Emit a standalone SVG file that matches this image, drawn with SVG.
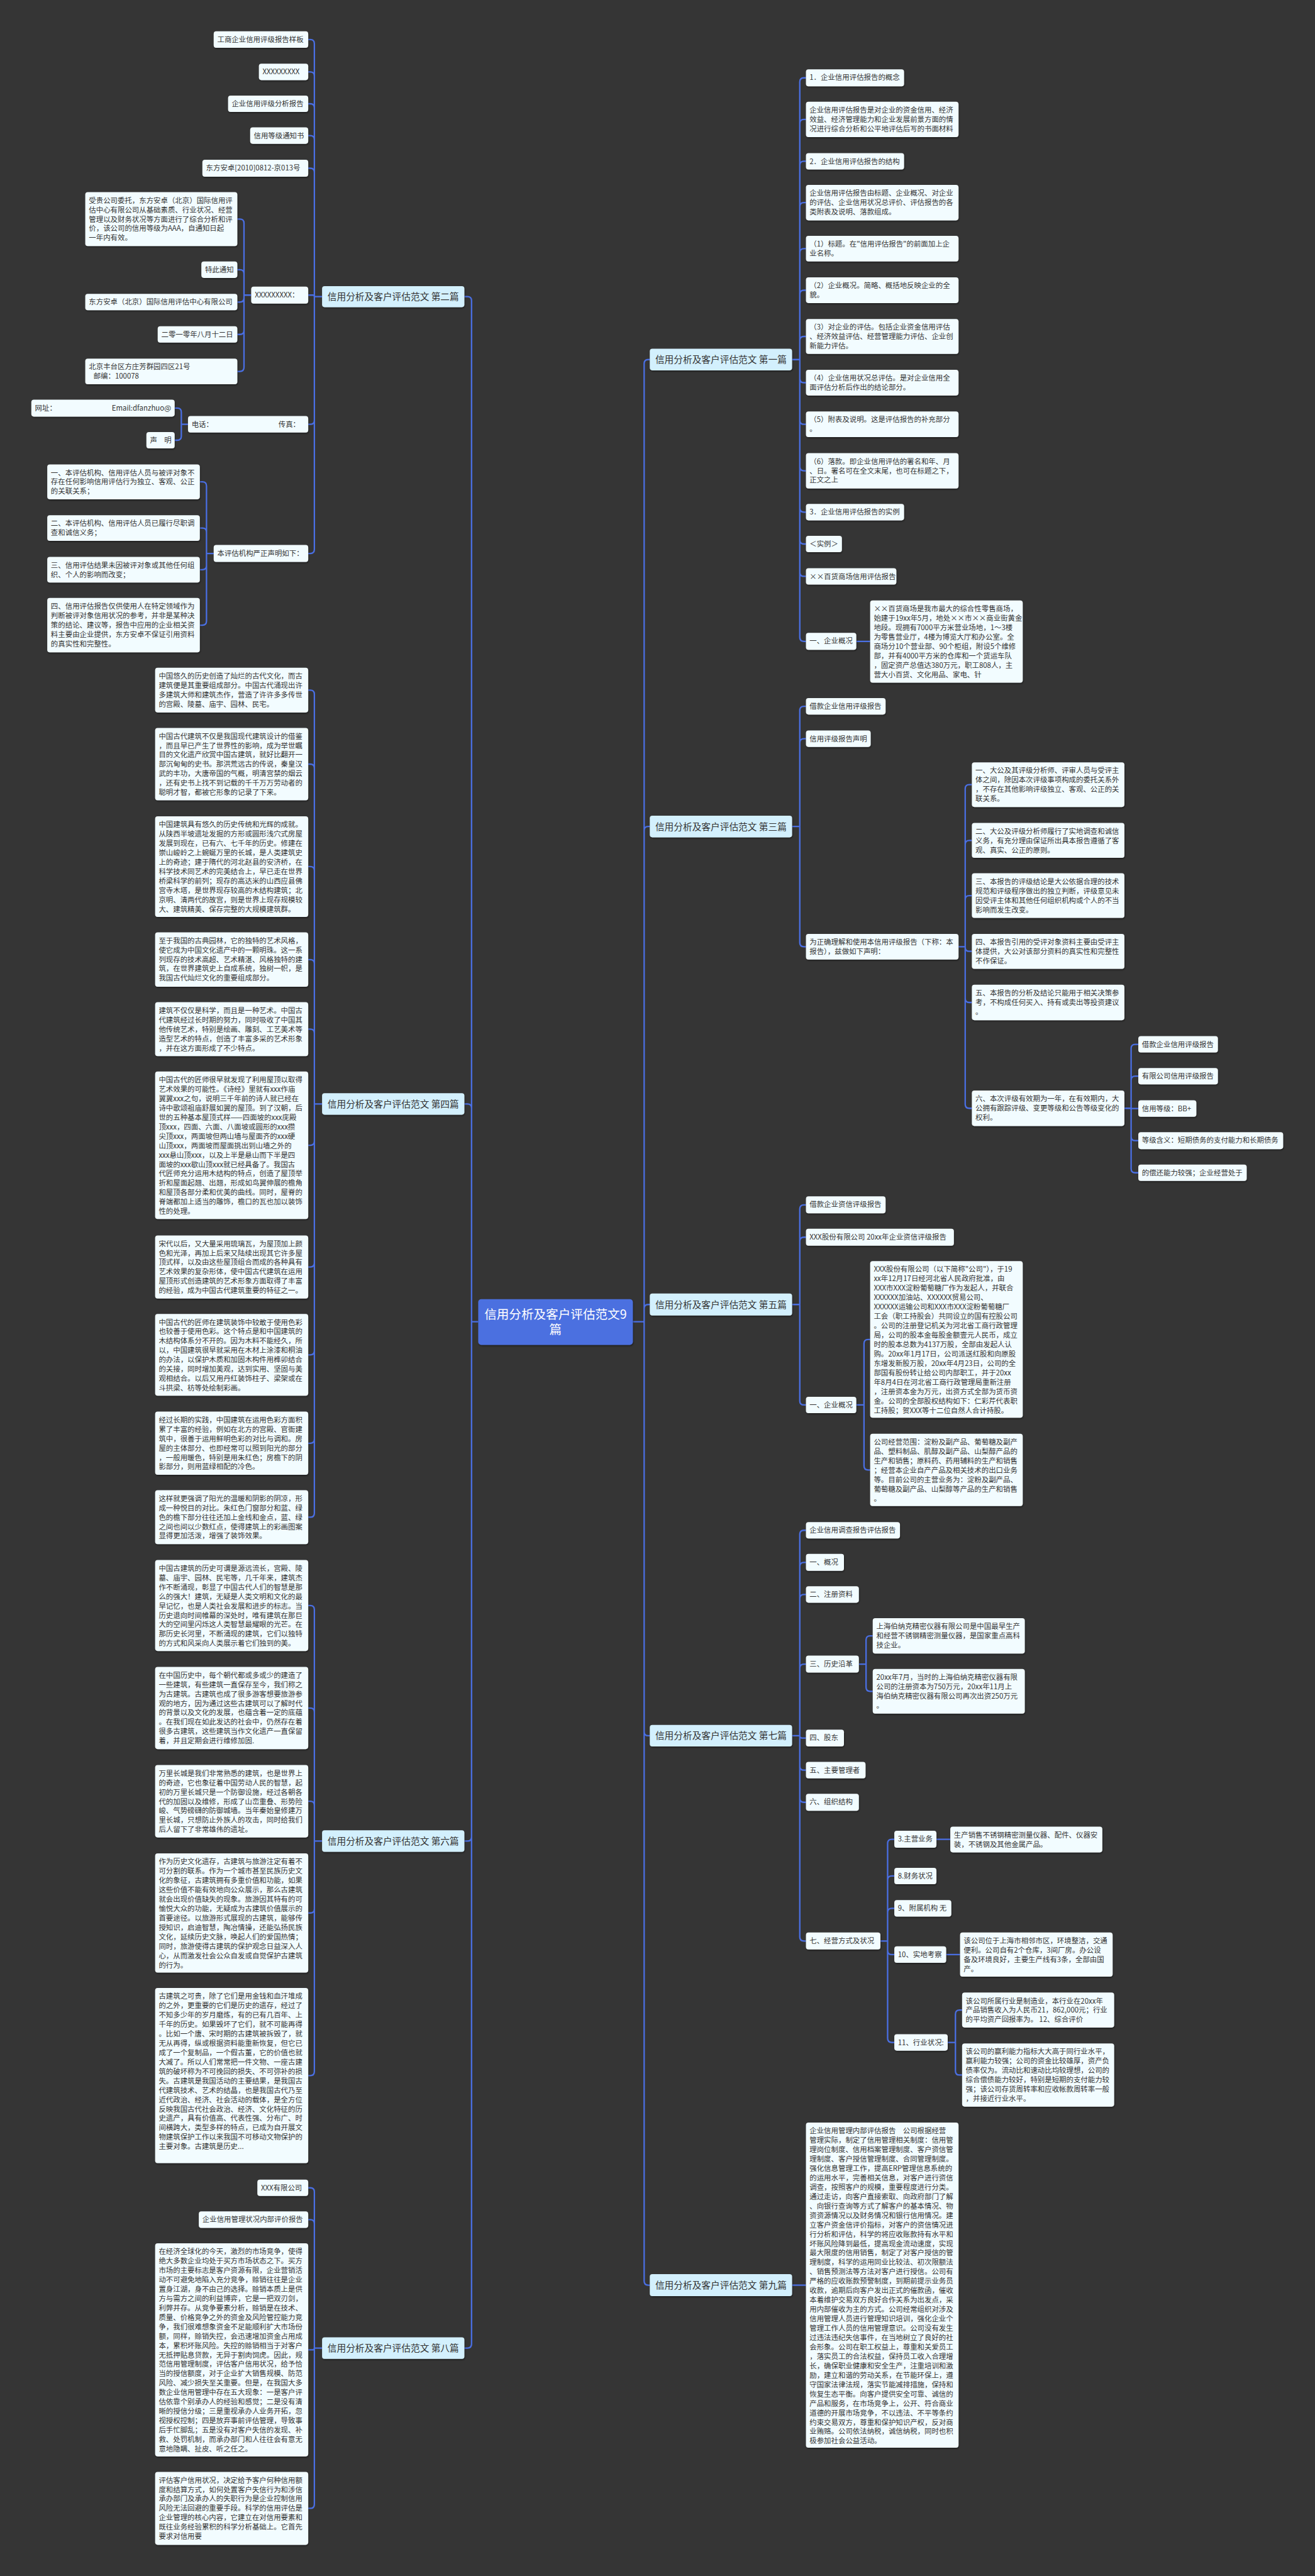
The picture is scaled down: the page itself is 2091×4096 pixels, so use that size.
<svg xmlns="http://www.w3.org/2000/svg" width="2091" height="4096" viewBox="0 0 2091 4096">
<defs>
<filter id="sh" x="-5%" y="-5%" width="110%" height="120%"><feDropShadow dx="1" dy="2" stdDeviation="1" flood-color="#000" flood-opacity="0.45"/></filter>
<style>
.lf rect{fill:#f2fcff;filter:url(#sh)}
.br rect{fill:#d3f0fd;filter:url(#sh)}
.ct rect{fill:#4b6fe0;filter:url(#sh)}
text{font-family:"Noto Sans CJK SC","Microsoft YaHei",sans-serif;fill:#333}
.t{font-size:14px}
.b{font-size:18px;text-anchor:middle}
.c{font-size:24px;text-anchor:middle;fill:#fff}
.e{text-anchor:end}
#cn path{fill:none;stroke:#4a6fe3;stroke-width:2.8}
</style>
</defs>
<rect width="2091" height="4096" fill="#353535"/>
<g transform="scale(0.8168)">
<g id="cn">
<path d="M931 2573H918M904 577.5H910Q918 577.5 918 585.5V2573M904 2149H910Q918 2149 918 2157V2573M904 3584H910Q918 3584 918 3576V2573M904 4571H910Q918 4571 918 4563V2573"/>
<path d="M1232 2573H1254M1265 700H1262Q1254 700 1254 708V2573M1265 1609H1262Q1254 1609 1254 1617V2573M1265 2539.5H1262Q1254 2539.5 1254 2547.5V2573M1265 3379H1262Q1254 3379 1254 3371V2573M1265 4448.5H1262Q1254 4448.5 1254 4440.5V2573"/>
<path d="M627 577.5H612M600 77H604Q612 77 612 85V577.5M600 140H604Q612 140 612 148V577.5M600 202H604Q612 202 612 210V577.5M600 264H604Q612 264 612 272V577.5M600 327.5H604Q612 327.5 612 335.5V577.5M600 574.5H609Q612 574.5 612 577.5M600 826H604Q612 826 612 818V577.5M600 1077.5H604Q612 1077.5 612 1069.5V577.5"/>
<path d="M489 574.5H475M462 426.5H467Q475 426.5 475 434.5V574.5M462 525H467Q475 525 475 533V574.5M462 588H467Q475 588 475 580V574.5M462 651H467Q475 651 475 643V574.5M462 723H467Q475 723 475 715V574.5"/>
<path d="M366 826H353M340 794.5H345Q353 794.5 353 802.5V826M340 857H345Q353 857 353 849V826"/>
<path d="M416 1077.5H402M389 938H394Q402 938 402 946V1077.5M389 1028H394Q402 1028 402 1036V1077.5M389 1109H394Q402 1109 402 1101V1077.5M389 1217H394Q402 1217 402 1209V1077.5"/>
<path d="M627 2149H612M600 1343.5H604Q612 1343.5 612 1351.5V2149M600 1487.5H604Q612 1487.5 612 1495.5V2149M600 1687H604Q612 1687 612 1695V2149M600 1868H604Q612 1868 612 1876V2149M600 2003.5H604Q612 2003.5 612 2011.5V2149M600 2229.5H604Q612 2229.5 612 2221.5V2149M600 2466.5H604Q612 2466.5 612 2458.5V2149M600 2637.5H604Q612 2637.5 612 2629.5V2149M600 2809.5H604Q612 2809.5 612 2801.5V2149M600 2953.5H604Q612 2953.5 612 2945.5V2149"/>
<path d="M627 3584H612M600 3125.5H604Q612 3125.5 612 3133.5V3584M600 3325H604Q612 3325 612 3333V3584M600 3506.5H604Q612 3506.5 612 3514.5V3584M600 3724H604Q612 3724 612 3716V3584M600 4040.5H604Q612 4040.5 612 4032.5V3584"/>
<path d="M627 4571H612M600 4259H604Q612 4259 612 4267V4571M600 4321H604Q612 4321 612 4329V4571M600 4574.5H608.5Q612 4574.5 612 4571M600 4883H604Q612 4883 612 4875V4571"/>
<path d="M1542 700H1557M1569 151.5H1565Q1557 151.5 1557 159.5V700M1569 232.5H1565Q1557 232.5 1557 240.5V700M1569 314H1565Q1557 314 1557 322V700M1569 394.5H1565Q1557 394.5 1557 402.5V700M1569 484H1565Q1557 484 1557 492V700M1569 565H1565Q1557 565 1557 573V700M1569 655H1565Q1557 655 1557 663V700M1569 745H1565Q1557 745 1557 737V700M1569 826H1565Q1557 826 1557 818V700M1569 916.5H1565Q1557 916.5 1557 908.5V700M1569 997H1565Q1557 997 1557 989V700M1569 1059H1565Q1557 1059 1557 1051V700M1569 1122H1565Q1557 1122 1557 1114V700M1569 1248.5H1565Q1557 1248.5 1557 1240.5V700M1667 1248.5H1694"/>
<path d="M1542 1609H1557M1569 1375H1565Q1557 1375 1557 1383V1609M1569 1438H1565Q1557 1438 1557 1446V1609M1569 1843H1565Q1557 1843 1557 1835V1609"/>
<path d="M1866 1843H1879M1892 1527.5H1887Q1879 1527.5 1879 1535.5V1843M1892 1636H1887Q1879 1636 1879 1644V1843M1892 1743.5H1887Q1879 1743.5 1879 1751.5V1843M1892 1852H1887Q1879 1852 1879 1844V1843M1892 1951.5H1887Q1879 1951.5 1879 1943.5V1843M1892 2157.5H1887Q1879 2157.5 1879 2149.5V1843"/>
<path d="M2189 2157.5H2202M2216 2033H2210Q2202 2033 2202 2041V2157.5M2216 2095H2210Q2202 2095 2202 2103V2157.5M2216 2158H2202M2216 2220.5H2210Q2202 2220.5 2202 2212.5V2157.5M2216 2283H2210Q2202 2283 2202 2275V2157.5"/>
<path d="M1542 2539.5H1557M1569 2345.5H1565Q1557 2345.5 1557 2353.5V2539.5M1569 2408.5H1565Q1557 2408.5 1557 2416.5V2539.5M1569 2735H1565Q1557 2735 1557 2727V2539.5"/>
<path d="M1667 2735H1682M1694 2607.5H1690Q1682 2607.5 1682 2615.5V2735M1694 2861.5H1690Q1682 2861.5 1682 2853.5V2735"/>
<path d="M1542 3379H1557M1569 2979H1565Q1557 2979 1557 2987V3379M1569 3041.5H1565Q1557 3041.5 1557 3049.5V3379M1569 3104H1565Q1557 3104 1557 3112V3379M1569 3239.5H1565Q1557 3239.5 1557 3247.5V3379M1569 3383.5H1561.5Q1557 3383.5 1557 3379M1569 3446H1565Q1557 3446 1557 3438V3379M1569 3508.5H1565Q1557 3508.5 1557 3500.5V3379M1569 3778.5H1565Q1557 3778.5 1557 3770.5V3379"/>
<path d="M1672 3239.5H1686M1699 3184.5H1694Q1686 3184.5 1686 3192.5V3239.5M1699 3292.5H1694Q1686 3292.5 1686 3284.5V3239.5"/>
<path d="M1714 3778.5H1728M1741 3580.5H1736Q1728 3580.5 1728 3588.5V3778.5M1741 3652H1736Q1728 3652 1728 3660V3778.5M1741 3715H1736Q1728 3715 1728 3723V3778.5M1741 3805H1736Q1728 3805 1728 3797V3778.5M1741 3976H1736Q1728 3976 1728 3968V3778.5M1823 3580.5H1850M1842 3805H1869"/>
<path d="M1845 3976H1860M1873 3913H1868Q1860 3913 1860 3921V3976M1873 4039.5H1868Q1860 4039.5 1860 4031.5V3976"/>
<path d="M1542 4448.5H1569"/>
</g>

<g id="center" class="ct"><rect x="931" y="2529" width="301" height="89" rx="6"/><text class="c" x="1081.5" y="2567">信用分析及客户评估范文9</text><text class="c" x="1081.5" y="2597">篇</text></g>

<g id="b2" class="br"><rect x="627" y="557" width="277" height="41" rx="5"/><text class="b" x="765.5" y="584">信用分析及客户评估范文 第二篇</text></g>
<g id="b4" class="br"><rect x="627" y="2128" width="277" height="42" rx="5"/><text class="b" x="765.5" y="2155.5">信用分析及客户评估范文 第四篇</text></g>
<g id="b6" class="br"><rect x="627" y="3563" width="277" height="42" rx="5"/><text class="b" x="765.5" y="3590.5">信用分析及客户评估范文 第六篇</text></g>
<g id="b8" class="br"><rect x="627" y="4550" width="277" height="42" rx="5"/><text class="b" x="765.5" y="4577.5">信用分析及客户评估范文 第八篇</text></g>
<g id="b1" class="br"><rect x="1265" y="679" width="277" height="42" rx="5"/><text class="b" x="1403.5" y="706.5">信用分析及客户评估范文 第一篇</text></g>
<g id="b3" class="br"><rect x="1265" y="1588" width="277" height="42" rx="5"/><text class="b" x="1403.5" y="1615.5">信用分析及客户评估范文 第三篇</text></g>
<g id="b5" class="br"><rect x="1265" y="2518" width="277" height="43" rx="5"/><text class="b" x="1403.5" y="2546">信用分析及客户评估范文 第五篇</text></g>
<g id="b7" class="br"><rect x="1265" y="3358" width="277" height="42" rx="5"/><text class="b" x="1403.5" y="3385.5">信用分析及客户评估范文 第七篇</text></g>
<g id="b9" class="br"><rect x="1265" y="4427" width="277" height="43" rx="5"/><text class="b" x="1403.5" y="4455">信用分析及客户评估范文 第九篇</text></g>

<g id="a1" class="lf"><rect x="416" y="61" width="184" height="32" rx="5"/><text class="t" x="423" y="82">工商企业信用评级报告样板</text></g>
<g id="a2" class="lf"><rect x="504" y="124" width="96" height="32" rx="5"/><text class="t" x="511" y="145">XXXXXXXXX</text></g>
<g id="a3" class="lf"><rect x="444" y="186" width="156" height="32" rx="5"/><text class="t" x="451" y="207">企业信用评级分析报告</text></g>
<g id="a4" class="lf"><rect x="487" y="248" width="113" height="32" rx="5"/><text class="t" x="494" y="269">信用等级通知书</text></g>
<g id="a5" class="lf"><rect x="394" y="311" width="206" height="33" rx="5"/><text class="t" x="401" y="332">东方安卓[2010]0812-京013号</text></g>
<g id="a6" class="lf"><rect x="489" y="558" width="111" height="33" rx="5"/><text class="t" x="496" y="579">XXXXXXXXX：</text></g>
<g id="a6a" class="lf"><rect x="166" y="374" width="296" height="105" rx="5"/><text class="t" x="173" y="395"><tspan x="173">受贵公司委托，东方安卓（北京）国际信用评</tspan><tspan x="173" dy="18.3">估中心有限公司从基础素质、行业状况、经营</tspan><tspan x="173" dy="18.3">管理以及财务状况等方面进行了综合分析和评</tspan><tspan x="173" dy="18.3">价，该公司的信用等级为AAA，自通知日起</tspan><tspan x="173" dy="18.3">一年内有效。</tspan></text></g>
<g id="a6b" class="lf"><rect x="392" y="509" width="70" height="32" rx="5"/><text class="t" x="399" y="530">特此通知</text></g>
<g id="a6c" class="lf"><rect x="166" y="572" width="296" height="32" rx="5"/><text class="t" x="173" y="593">东方安卓（北京）国际信用评估中心有限公司</text></g>
<g id="a6d" class="lf"><rect x="307" y="635" width="155" height="32" rx="5"/><text class="t" x="314" y="656">二零一零年八月十二日</text></g>
<g id="a6e" class="lf"><rect x="166" y="698" width="296" height="50" rx="5"/><text class="t" x="173" y="719"><tspan x="173">北京丰台区方庄芳群园四区21号</tspan><tspan x="182" dy="18.3">邮编：100078</tspan></text></g>
<g id="a7" class="lf"><rect x="366" y="810" width="234" height="32" rx="5"/><text class="t" x="373" y="831">电话：</text><text class="t e" x="584" y="831">传真：</text></g>
<g id="a7a" class="lf"><rect x="61" y="778" width="279" height="33" rx="5"/><text class="t" x="68" y="799">网址：</text><text class="t e" x="333" y="799">Email:dfanzhuo@</text></g>
<g id="a7b" class="lf"><rect x="285" y="841" width="55" height="32" rx="5"/><text class="t" x="292" y="862">声　明</text></g>
<g id="a8" class="lf"><rect x="416" y="1061" width="184" height="33" rx="5"/><text class="t" x="423" y="1082">本评估机构严正声明如下：</text></g>
<g id="a8a" class="lf"><rect x="92" y="904" width="297" height="68" rx="5"/><text class="t" x="99" y="925"><tspan x="99">一、本评估机构、信用评估人员与被评对象不</tspan><tspan x="99" dy="18.3">存在任何影响信用评估行为独立、客观、公正</tspan><tspan x="99" dy="18.3">的关联关系；</tspan></text></g>
<g id="a8b" class="lf"><rect x="92" y="1003" width="297" height="50" rx="5"/><text class="t" x="99" y="1024"><tspan x="99">二、本评估机构、信用评估人员已履行尽职调</tspan><tspan x="99" dy="18.3">查和诚信义务；</tspan></text></g>
<g id="a8c" class="lf"><rect x="92" y="1084" width="297" height="50" rx="5"/><text class="t" x="99" y="1105"><tspan x="99">三、信用评估结果未因被评对象或其他任何组</tspan><tspan x="99" dy="18.3">织、个人的影响而改变；</tspan></text></g>
<g id="a8d" class="lf"><rect x="92" y="1164" width="297" height="106" rx="5"/><text class="t" x="99" y="1185"><tspan x="99">四、信用评估报告仅供使用人在特定领域作为</tspan><tspan x="99" dy="18.3">判断被评对象信用状况的参考，并非是某种决</tspan><tspan x="99" dy="18.3">策的结论、建议等，报告中应用的企业相关资</tspan><tspan x="99" dy="18.3">料主要由企业提供，东方安卓不保证引用资料</tspan><tspan x="99" dy="18.3">的真实性和完整性。</tspan></text></g>

<g id="b4-1" class="lf"><rect x="302" y="1300" width="298" height="87" rx="5"/><text class="t" x="309" y="1321"><tspan x="309">中国悠久的历史创造了灿烂的古代文化，而古</tspan><tspan x="309" dy="18.3">建筑便是其重要组成部分。中国古代涌现出许</tspan><tspan x="309" dy="18.3">多建筑大师和建筑杰作，营造了许许多多传世</tspan><tspan x="309" dy="18.3">的宫殿、陵墓、庙宇、园林、民宅。</tspan></text></g>
<g id="b4-2" class="lf"><rect x="302" y="1417" width="298" height="141" rx="5"/><text class="t" x="309" y="1438"><tspan x="309">中国古代建筑不仅是我国现代建筑设计的借鉴</tspan><tspan x="309" dy="18.3">，而且早已产生了世界性的影响，成为举世瞩</tspan><tspan x="309" dy="18.3">目的文化遗产欣赏中国古建筑，就好比翻开一</tspan><tspan x="309" dy="18.3">部沉甸甸的史书。那洪荒远古的传说，秦皇汉</tspan><tspan x="309" dy="18.3">武的丰功，大唐帝国的气概，明清宫禁的烟云</tspan><tspan x="309" dy="18.3">，还有史书上找不到记载的千千万万劳动者的</tspan><tspan x="309" dy="18.3">聪明才智，都被它形象的记录了下来。</tspan></text></g>
<g id="b4-3" class="lf"><rect x="302" y="1589" width="298" height="196" rx="5"/><text class="t" x="309" y="1610"><tspan x="309">中国建筑具有悠久的历史传统和光辉的成就。</tspan><tspan x="309" dy="18.3">从陕西半坡遗址发掘的方形或圆形浅穴式房屋</tspan><tspan x="309" dy="18.3">发展到现在，已有六、七千年的历史。修建在</tspan><tspan x="309" dy="18.3">崇山峻岭之上蜿蜒万里的长城，是人类建筑史</tspan><tspan x="309" dy="18.3">上的奇迹；建于隋代的河北赵县的安济桥，在</tspan><tspan x="309" dy="18.3">科学技术同艺术的完美结合上，早已走在世界</tspan><tspan x="309" dy="18.3">桥梁科学的前列；现存的高达米的山西应县佛</tspan><tspan x="309" dy="18.3">宫寺木塔，是世界现存较高的木结构建筑；北</tspan><tspan x="309" dy="18.3">京明、清两代的故宫，则是世界上现存规模较</tspan><tspan x="309" dy="18.3">大、建筑精美、保存完整的大规模建筑群。</tspan></text></g>
<g id="b4-4" class="lf"><rect x="302" y="1815" width="298" height="106" rx="5"/><text class="t" x="309" y="1836"><tspan x="309">至于我国的古典园林，它的独特的艺术风格，</tspan><tspan x="309" dy="18.3">使它成为中国文化遗产中的一颗明珠。这一系</tspan><tspan x="309" dy="18.3">列现存的技术高超、艺术精湛、风格独特的建</tspan><tspan x="309" dy="18.3">筑，在世界建筑史上自成系统，独树一帜，是</tspan><tspan x="309" dy="18.3">我国古代灿烂文化的重要组成部分。</tspan></text></g>
<g id="b4-5" class="lf"><rect x="302" y="1951" width="298" height="105" rx="5"/><text class="t" x="309" y="1972"><tspan x="309">建筑不仅仅是科学，而且是一种艺术。中国古</tspan><tspan x="309" dy="18.3">代建筑经过长时期的努力，同时吸收了中国其</tspan><tspan x="309" dy="18.3">他传统艺术，特别是绘画、雕刻、工艺美术等</tspan><tspan x="309" dy="18.3">造型艺术的特点，创造了丰富多采的艺术形象</tspan><tspan x="309" dy="18.3">，并在这方面形成了不少特点。</tspan></text></g>
<g id="b4-6" class="lf"><rect x="302" y="2086" width="298" height="287" rx="5"/><text class="t" x="309" y="2107"><tspan x="309">中国古代的匠师很早就发现了利用屋顶以取得</tspan><tspan x="309" dy="18.3">艺术效果的可能性。《诗经》里就有xxx作庙</tspan><tspan x="309" dy="18.3">翼翼xxx之句，说明三千年前的诗人就已经在</tspan><tspan x="309" dy="18.3">诗中歌颂祖庙舒展如翼的屋顶。到了汉朝，后</tspan><tspan x="309" dy="18.3">世的五种基本屋顶式样——四面坡的xxx庑殿</tspan><tspan x="309" dy="18.3">顶xxx，四面、六面、八面坡或圆形的xxx攒</tspan><tspan x="309" dy="18.3">尖顶xxx，两面坡但两山墙与屋面齐的xxx硬</tspan><tspan x="309" dy="18.3">山顶xxx，两面坡而屋面挑出到山墙之外的</tspan><tspan x="309" dy="18.3">xxx悬山顶xxx，以及上半是悬山而下半是四</tspan><tspan x="309" dy="18.3">面坡的xxx歇山顶xxx就已经具备了。我国古</tspan><tspan x="309" dy="18.3">代匠师充分运用木结构的特点，创造了屋顶举</tspan><tspan x="309" dy="18.3">折和屋面起翘、出翘，形成如鸟翼伸展的檐角</tspan><tspan x="309" dy="18.3">和屋顶各部分柔和优美的曲线。同时，屋脊的</tspan><tspan x="309" dy="18.3">脊端都加上适当的雕饰，檐口的瓦也加以装饰</tspan><tspan x="309" dy="18.3">性的处理。</tspan></text></g>
<g id="b4-7" class="lf"><rect x="302" y="2405" width="298" height="123" rx="5"/><text class="t" x="309" y="2426"><tspan x="309">宋代以后，又大量采用琉璃瓦，为屋顶加上颜</tspan><tspan x="309" dy="18.3">色和光泽，再加上后来又陆续出现其它许多屋</tspan><tspan x="309" dy="18.3">顶式样，以及由这些屋顶组合而成的各种具有</tspan><tspan x="309" dy="18.3">艺术效果的复杂形体，使中国古代建筑在运用</tspan><tspan x="309" dy="18.3">屋顶形式创造建筑的艺术形象方面取得了丰富</tspan><tspan x="309" dy="18.3">的经验，成为中国古代建筑重要的特征之一。</tspan></text></g>
<g id="b4-8" class="lf"><rect x="302" y="2558" width="298" height="159" rx="5"/><text class="t" x="309" y="2579"><tspan x="309">中国古代的匠师在建筑装饰中较敢于使用色彩</tspan><tspan x="309" dy="18.3">也较善于使用色彩。这个特点是和中国建筑的</tspan><tspan x="309" dy="18.3">木结构体系分不开的。因为木料不能经久，所</tspan><tspan x="309" dy="18.3">以，中国建筑很早就采用在木材上涂漆和桐油</tspan><tspan x="309" dy="18.3">的办法，以保护木质和加固木构件用榫卯结合</tspan><tspan x="309" dy="18.3">的关接，同时增加美观，达到实用、坚固与美</tspan><tspan x="309" dy="18.3">观相结合。以后又用丹红装饰柱子、梁架或在</tspan><tspan x="309" dy="18.3">斗拱梁、枋等处绘制彩画。</tspan></text></g>
<g id="b4-9" class="lf"><rect x="302" y="2748" width="298" height="123" rx="5"/><text class="t" x="309" y="2769"><tspan x="309">经过长期的实践，中国建筑在运用色彩方面积</tspan><tspan x="309" dy="18.3">累了丰富的经验，例如在北方的宫殿、官衙建</tspan><tspan x="309" dy="18.3">筑中，很善于运用鲜明色彩的对比与调和。房</tspan><tspan x="309" dy="18.3">屋的主体部分、也即经常可以照到阳光的部分</tspan><tspan x="309" dy="18.3">，一般用暖色，特别是用朱红色；房檐下的阴</tspan><tspan x="309" dy="18.3">影部分，则用蓝绿相配的冷色。</tspan></text></g>
<g id="b4-10" class="lf"><rect x="302" y="2901" width="298" height="105" rx="5"/><text class="t" x="309" y="2922"><tspan x="309">这样就更强调了阳光的温暖和阴影的阴凉，形</tspan><tspan x="309" dy="18.3">成一种悦目的对比。朱红色门窗部分和蓝、绿</tspan><tspan x="309" dy="18.3">色的檐下部分往往还加上金线和金点，蓝、绿</tspan><tspan x="309" dy="18.3">之间也间以少数红点，使得建筑上的彩画图案</tspan><tspan x="309" dy="18.3">显得更加活泼，增强了装饰效果。</tspan></text></g>

<g id="b6-1" class="lf"><rect x="302" y="3037" width="298" height="177" rx="5"/><text class="t" x="309" y="3058"><tspan x="309">中国古建筑的历史可谓是源远流长，宫殿、陵</tspan><tspan x="309" dy="18.3">墓、庙宇、园林、民宅等，几千年来，建筑杰</tspan><tspan x="309" dy="18.3">作不断涌现，彰显了中国古代人们的智慧是那</tspan><tspan x="309" dy="18.3">么的强大！建筑，无疑是人类文明和文化的最</tspan><tspan x="309" dy="18.3">早记忆，也是人类社会发展和进步的标志。当</tspan><tspan x="309" dy="18.3">历史退向时间帷幕的深处时，唯有建筑在那巨</tspan><tspan x="309" dy="18.3">大的空间里闪烁这人类智慧最耀眼的光芒。在</tspan><tspan x="309" dy="18.3">那历史长河里，不断涌现的建筑，它们以独特</tspan><tspan x="309" dy="18.3">的方式和风采向人类展示着它们独到的美。</tspan></text></g>
<g id="b6-2" class="lf"><rect x="302" y="3245" width="298" height="160" rx="5"/><text class="t" x="309" y="3266"><tspan x="309">在中国历史中，每个朝代都或多或少的建造了</tspan><tspan x="309" dy="18.3">一些建筑，有些建筑一直保存至今，我们称之</tspan><tspan x="309" dy="18.3">为古建筑。古建筑也成了很多游客想要旅游参</tspan><tspan x="309" dy="18.3">观的地方，因为通过这些古建筑可以了解时代</tspan><tspan x="309" dy="18.3">的背景以及文化的发展，也蕴含着一定的底蕴</tspan><tspan x="309" dy="18.3">。在我们现在如此发达的社会中，仍然存在着</tspan><tspan x="309" dy="18.3">很多古建筑，这些建筑当作文化遗产一直保留</tspan><tspan x="309" dy="18.3">着，并且定期会进行维修加固.</tspan></text></g>
<g id="b6-3" class="lf"><rect x="302" y="3436" width="298" height="141" rx="5"/><text class="t" x="309" y="3457"><tspan x="309">万里长城是我们非常熟悉的建筑，也是世界上</tspan><tspan x="309" dy="18.3">的奇迹，它也象征着中国劳动人民的智慧，起</tspan><tspan x="309" dy="18.3">初的万里长城只是一个防御设施，经过各朝各</tspan><tspan x="309" dy="18.3">代的加固以及维修，形成了山峦重叠、形势险</tspan><tspan x="309" dy="18.3">峻、气势磅礴的防御城墙。当年秦始皇修建万</tspan><tspan x="309" dy="18.3">里长城，只想防止外族人的攻击，同时给我们</tspan><tspan x="309" dy="18.3">后人留下了非常雄伟的遗址。</tspan></text></g>
<g id="b6-4" class="lf"><rect x="302" y="3608" width="298" height="232" rx="5"/><text class="t" x="309" y="3629"><tspan x="309">作为历史文化遗存，古建筑与旅游注定有着不</tspan><tspan x="309" dy="18.3">可分割的联系。作为一个城市甚至民族历史文</tspan><tspan x="309" dy="18.3">化的象征，古建筑拥有多重价值和功能，如果</tspan><tspan x="309" dy="18.3">这些价值不能有效地向公众展示，那么古建筑</tspan><tspan x="309" dy="18.3">就会出现价值缺失的现象。旅游因其特有的可</tspan><tspan x="309" dy="18.3">愉悦大众的功能，无疑成为古建筑价值展示的</tspan><tspan x="309" dy="18.3">首要途径。以旅游形式展现的古建筑，能够传</tspan><tspan x="309" dy="18.3">授知识，启迪智慧，陶冶情操，还能弘扬民族</tspan><tspan x="309" dy="18.3">文化，延续历史文脉，唤起人们的爱国热情；</tspan><tspan x="309" dy="18.3">同时，旅游使得古建筑的保护观念日益深入人</tspan><tspan x="309" dy="18.3">心，从而激发社会公众自发或自觉保护古建筑</tspan><tspan x="309" dy="18.3">的行为。</tspan></text></g>
<g id="b6-5" class="lf"><rect x="302" y="3870" width="298" height="341" rx="5"/><text class="t" x="309" y="3891"><tspan x="309">古建筑之可贵，除了它们是用金钱和血汗堆成</tspan><tspan x="309" dy="18.3">的之外，更重要的它们是历史的遗存，经过了</tspan><tspan x="309" dy="18.3">不知多少年的岁月磨炼，有的已有几百年、上</tspan><tspan x="309" dy="18.3">千年的历史。如果毁坏了它们，就不可能再得</tspan><tspan x="309" dy="18.3">。比如一个唐、宋时期的古建筑被拆毁了，就</tspan><tspan x="309" dy="18.3">无从再得，纵或根据资料能重新恢复，但它已</tspan><tspan x="309" dy="18.3">成了一个复制品，一个假古董，它的价值也就</tspan><tspan x="309" dy="18.3">大减了。所以人们常常把一件文物、一座古建</tspan><tspan x="309" dy="18.3">筑的破坏称为不可挽回的损失、不可弥补的损</tspan><tspan x="309" dy="18.3">失。古建筑是我国活动的主要结果，是我国古</tspan><tspan x="309" dy="18.3">代建筑技术、艺术的结晶，也是我国古代乃至</tspan><tspan x="309" dy="18.3">近代政治、经济、社会活动的载体，是全方位</tspan><tspan x="309" dy="18.3">反映我国古代社会政治、经济、文化特征的历</tspan><tspan x="309" dy="18.3">史遗产，具有价值高、代表性强、分布广、时</tspan><tspan x="309" dy="18.3">间横跨大，类型多样的特点，已成为自开展文</tspan><tspan x="309" dy="18.3">物建筑保护工作以来我国不可移动文物保护的</tspan><tspan x="309" dy="18.3">主要对象。古建筑是历史...</tspan></text></g>

<g id="b8-1" class="lf"><rect x="501" y="4243" width="99" height="32" rx="5"/><text class="t" x="508" y="4264">XXX有限公司</text></g>
<g id="b8-2" class="lf"><rect x="387" y="4305" width="213" height="32" rx="5"/><text class="t" x="394" y="4326">企业信用管理状况内部评价报告</text></g>
<g id="b8-3" class="lf"><rect x="302" y="4367" width="298" height="415" rx="5"/><text class="t" x="309" y="4388"><tspan x="309">在经济全球化的今天，激烈的市场竞争，使得</tspan><tspan x="309" dy="18.3">绝大多数企业均处于买方市场状态之下。买方</tspan><tspan x="309" dy="18.3">市场的主要标志是客户资源有限，企业营销活</tspan><tspan x="309" dy="18.3">动不可避免地陷入充分竞争，赊销往往是企业</tspan><tspan x="309" dy="18.3">置身江湖，身不由己的选择。赊销本质上是供</tspan><tspan x="309" dy="18.3">方与需方之间的利益博弈，它是一把双刃剑，</tspan><tspan x="309" dy="18.3">利弊并存。从竞争要素分析，赊销是在技术、</tspan><tspan x="309" dy="18.3">质量、价格竞争之外的资金及风险管控能力竞</tspan><tspan x="309" dy="18.3">争，我们很难想象资金不足能顺利扩大市场份</tspan><tspan x="309" dy="18.3">额，同样，赊销失控，会迅速增加资金占用成</tspan><tspan x="309" dy="18.3">本，累积坏账风险。失控的赊销相当于对客户</tspan><tspan x="309" dy="18.3">无抵押贴息贷款，无异于割肉饲虎。因此，规</tspan><tspan x="309" dy="18.3">范信用管理制度，评估客户信用状况，给予恰</tspan><tspan x="309" dy="18.3">当的授信额度，对于企业扩大销售规模、防范</tspan><tspan x="309" dy="18.3">风险、减少损失至关重要。但是，在我国大多</tspan><tspan x="309" dy="18.3">数企业信用管理中存在五大现象：一是客户评</tspan><tspan x="309" dy="18.3">估依靠个别承办人的经验和感觉；二是没有清</tspan><tspan x="309" dy="18.3">晰的授信分级；三是重视承办人业务开拓，忽</tspan><tspan x="309" dy="18.3">视授权控制；四是放弃事前评估管理，导致事</tspan><tspan x="309" dy="18.3">后手忙脚乱；五是没有对客户失信的发现、补</tspan><tspan x="309" dy="18.3">救、处罚机制，而承办部门和人往往会有意无</tspan><tspan x="309" dy="18.3">意地隐瞒、扯皮、听之任之。</tspan></text></g>
<g id="b8-4" class="lf"><rect x="302" y="4812" width="298" height="142" rx="5"/><text class="t" x="309" y="4833"><tspan x="309">评估客户信用状况，决定给予客户何种信用额</tspan><tspan x="309" dy="18.3">度和结算方式，如何处置客户失信行为和涉信</tspan><tspan x="309" dy="18.3">承办部门及承办人的失职行为是企业控制信用</tspan><tspan x="309" dy="18.3">风险无法回避的重要手段。科学的信用评估是</tspan><tspan x="309" dy="18.3">企业管理的核心内容，它建立在对信用要素和</tspan><tspan x="309" dy="18.3">既往业务经验累积的科学分析基础上。它首先</tspan><tspan x="309" dy="18.3">要求对信用要</tspan></text></g>

<g id="e1" class="lf"><rect x="1569" y="135" width="191" height="33" rx="5"/><text class="t" x="1576" y="156">1．企业信用评估报告的概念</text></g>
<g id="e2" class="lf"><rect x="1569" y="198" width="297" height="69" rx="5"/><text class="t" x="1576" y="219"><tspan x="1576">企业信用评估报告是对企业的资金信用、经济</tspan><tspan x="1576" dy="18.3">效益、经济管理能力和企业发展前景方面的情</tspan><tspan x="1576" dy="18.3">况进行综合分析和公平地评估后写的书面材料</tspan></text></g>
<g id="e3" class="lf"><rect x="1569" y="298" width="191" height="32" rx="5"/><text class="t" x="1576" y="319">2．企业信用评估报告的结构</text></g>
<g id="e4" class="lf"><rect x="1569" y="360" width="297" height="69" rx="5"/><text class="t" x="1576" y="381"><tspan x="1576">企业信用评估报告由标题、企业概况、对企业</tspan><tspan x="1576" dy="18.3">的评估、企业信用状况总评价、评估报告的各</tspan><tspan x="1576" dy="18.3">类附表及说明、落款组成。</tspan></text></g>
<g id="e5" class="lf"><rect x="1569" y="459" width="297" height="50" rx="5"/><text class="t" x="1576" y="480"><tspan x="1576">（1）标题。在"信用评估报告"的前面加上企</tspan><tspan x="1576" dy="18.3">业名称。</tspan></text></g>
<g id="e6" class="lf"><rect x="1569" y="540" width="297" height="50" rx="5"/><text class="t" x="1576" y="561"><tspan x="1576">（2）企业概况。简略、概括地反映企业的全</tspan><tspan x="1576" dy="18.3">貌。</tspan></text></g>
<g id="e7" class="lf"><rect x="1569" y="621" width="297" height="68" rx="5"/><text class="t" x="1576" y="642"><tspan x="1576">（3）对企业的评估。包括企业资金信用评估</tspan><tspan x="1576" dy="18.3">、经济效益评估、经营管理能力评估、企业创</tspan><tspan x="1576" dy="18.3">新能力评估。</tspan></text></g>
<g id="e8" class="lf"><rect x="1569" y="720" width="297" height="50" rx="5"/><text class="t" x="1576" y="741"><tspan x="1576">（4）企业信用状况总评估。是对企业信用全</tspan><tspan x="1576" dy="18.3">面评估分析后作出的结论部分。</tspan></text></g>
<g id="e9" class="lf"><rect x="1569" y="801" width="297" height="50" rx="5"/><text class="t" x="1576" y="822"><tspan x="1576">（5）附表及说明。这是评估报告的补充部分</tspan><tspan x="1576" dy="18.3">。</tspan></text></g>
<g id="e10" class="lf"><rect x="1569" y="882" width="297" height="69" rx="5"/><text class="t" x="1576" y="903"><tspan x="1576">（6）落款。即企业信用评估的署名和年、月</tspan><tspan x="1576" dy="18.3">、日。署名可在全文末尾，也可在标题之下，</tspan><tspan x="1576" dy="18.3">正文之上</tspan></text></g>
<g id="e11" class="lf"><rect x="1569" y="981" width="191" height="32" rx="5"/><text class="t" x="1576" y="1002">3．企业信用评估报告的实例</text></g>
<g id="e12" class="lf"><rect x="1569" y="1043" width="70" height="32" rx="5"/><text class="t" x="1576" y="1064">＜实例＞</text></g>
<g id="e13" class="lf"><rect x="1569" y="1106" width="176" height="32" rx="5"/><text class="t" x="1576" y="1127">××百货商场信用评估报告</text></g>
<g id="e14" class="lf"><rect x="1569" y="1232" width="98" height="33" rx="5"/><text class="t" x="1576" y="1253">一、企业概况</text></g>
<g id="e14a" class="lf"><rect x="1694" y="1169" width="297" height="160" rx="5"/><text class="t" x="1701" y="1190"><tspan x="1701">××百货商场是我市最大的综合性零售商场，</tspan><tspan x="1701" dy="18.3">始建于19xx年5月，地处××市××商业街黄金</tspan><tspan x="1701" dy="18.3">地段。现拥有7000平方米营业场地，1～3楼</tspan><tspan x="1701" dy="18.3">为零售营业厅，4楼为博览大厅和办公室。全</tspan><tspan x="1701" dy="18.3">商场分10个营业部、90个柜组，附设5个维修</tspan><tspan x="1701" dy="18.3">部，并有4000平方米的仓库和一个货运车队</tspan><tspan x="1701" dy="18.3">，固定资产总值达380万元，职工808人，主</tspan><tspan x="1701" dy="18.3">营大小百货、文化用品、家电、针</tspan></text></g>

<g id="f1" class="lf"><rect x="1569" y="1359" width="155" height="32" rx="5"/><text class="t" x="1576" y="1380">借款企业信用评级报告</text></g>
<g id="f2" class="lf"><rect x="1569" y="1422" width="126" height="32" rx="5"/><text class="t" x="1576" y="1443">信用评级报告声明</text></g>
<g id="f3" class="lf"><rect x="1569" y="1818" width="297" height="50" rx="5"/><text class="t" x="1576" y="1839"><tspan x="1576">为正确理解和使用本信用评级报告（下称：本</tspan><tspan x="1576" dy="18.3">报告），兹做如下声明：</tspan></text></g>
<g id="f3a" class="lf"><rect x="1892" y="1484" width="297" height="87" rx="5"/><text class="t" x="1899" y="1505"><tspan x="1899">一、大公及其评级分析师、评审人员与受评主</tspan><tspan x="1899" dy="18.3">体之间，除因本次评级事项构成的委托关系外</tspan><tspan x="1899" dy="18.3">，不存在其他影响评级独立、客观、公正的关</tspan><tspan x="1899" dy="18.3">联关系。</tspan></text></g>
<g id="f3b" class="lf"><rect x="1892" y="1602" width="297" height="68" rx="5"/><text class="t" x="1899" y="1623"><tspan x="1899">二、大公及评级分析师履行了实地调查和诚信</tspan><tspan x="1899" dy="18.3">义务，有充分理由保证所出具本报告遵循了客</tspan><tspan x="1899" dy="18.3">观、真实、公正的原则。</tspan></text></g>
<g id="f3c" class="lf"><rect x="1892" y="1700" width="297" height="87" rx="5"/><text class="t" x="1899" y="1721"><tspan x="1899">三、本报告的评级结论是大公依据合理的技术</tspan><tspan x="1899" dy="18.3">规范和评级程序做出的独立判断，评级意见未</tspan><tspan x="1899" dy="18.3">因受评主体和其他任何组织机构或个人的不当</tspan><tspan x="1899" dy="18.3">影响而发生改变。</tspan></text></g>
<g id="f3d" class="lf"><rect x="1892" y="1818" width="297" height="68" rx="5"/><text class="t" x="1899" y="1839"><tspan x="1899">四、本报告引用的受评对象资料主要由受评主</tspan><tspan x="1899" dy="18.3">体提供，大公对该部分资料的真实性和完整性</tspan><tspan x="1899" dy="18.3">不作保证。</tspan></text></g>
<g id="f3e" class="lf"><rect x="1892" y="1917" width="297" height="69" rx="5"/><text class="t" x="1899" y="1938"><tspan x="1899">五、本报告的分析及结论只能用于相关决策参</tspan><tspan x="1899" dy="18.3">考，不构成任何买入、持有或卖出等投资建议</tspan><tspan x="1899" dy="18.3">。</tspan></text></g>
<g id="f3f" class="lf"><rect x="1892" y="2123" width="297" height="69" rx="5"/><text class="t" x="1899" y="2144"><tspan x="1899">六、本次评级有效期为一年，在有效期内，大</tspan><tspan x="1899" dy="18.3">公拥有跟踪评级、变更等级和公告等级变化的</tspan><tspan x="1899" dy="18.3">权利。</tspan></text></g>
<g id="g1" class="lf"><rect x="2216" y="2017" width="155" height="32" rx="5"/><text class="t" x="2223" y="2038">借款企业信用评级报告</text></g>
<g id="g2" class="lf"><rect x="2216" y="2079" width="155" height="32" rx="5"/><text class="t" x="2223" y="2100">有限公司信用评级报告</text></g>
<g id="g3" class="lf"><rect x="2216" y="2142" width="113" height="32" rx="5"/><text class="t" x="2223" y="2163">信用等级：BB+</text></g>
<g id="g4" class="lf"><rect x="2216" y="2204" width="282" height="33" rx="5"/><text class="t" x="2223" y="2225">等级含义：短期债务的支付能力和长期债务</text></g>
<g id="g5" class="lf"><rect x="2216" y="2267" width="211" height="32" rx="5"/><text class="t" x="2223" y="2288">的偿还能力较强；企业经营处于</text></g>

<g id="h1" class="lf"><rect x="1569" y="2329" width="155" height="33" rx="5"/><text class="t" x="1576" y="2350">借款企业资信评级报告</text></g>
<g id="h2" class="lf"><rect x="1569" y="2392" width="288" height="33" rx="5"/><text class="t" x="1576" y="2413">XXX股份有限公司 20xx年企业资信评级报告</text></g>
<g id="h3" class="lf"><rect x="1569" y="2719" width="98" height="32" rx="5"/><text class="t" x="1576" y="2740">一、企业概况</text></g>
<g id="h3a" class="lf"><rect x="1694" y="2455" width="297" height="305" rx="5"/><text class="t" x="1701" y="2476"><tspan x="1701">XXX股份有限公司（以下简称"公司"），于19</tspan><tspan x="1701" dy="18.3">xx年12月17日经河北省人民政府批准，由</tspan><tspan x="1701" dy="18.3">XXX市XXX淀粉葡萄糖厂作为发起人，并联合</tspan><tspan x="1701" dy="18.3">XXXXXX加油站、XXXXXX贸易公司、</tspan><tspan x="1701" dy="18.3">XXXXXX运输公司和XXX市XXX淀粉葡萄糖厂</tspan><tspan x="1701" dy="18.3">工会（职工持股会）共同设立的国有控股公司</tspan><tspan x="1701" dy="18.3">。公司的注册登记机关为河北省工商行政管理</tspan><tspan x="1701" dy="18.3">局，公司的股本金每股金额壹元人民币，成立</tspan><tspan x="1701" dy="18.3">时的股本总数为4137万股，全部由发起人认</tspan><tspan x="1701" dy="18.3">购。20xx年1月17日，公司派送红股和向原股</tspan><tspan x="1701" dy="18.3">东增发新股万股，20xx年4月23日，公司的全</tspan><tspan x="1701" dy="18.3">部国有股份转让给公司内部职工，并于20xx</tspan><tspan x="1701" dy="18.3">年8月4日在河北省工商行政管理局重新注册</tspan><tspan x="1701" dy="18.3">，注册资本金为万元，出资方式全部为货币资</tspan><tspan x="1701" dy="18.3">金。公司的全部股权结构如下：仁彩芹代表职</tspan><tspan x="1701" dy="18.3">工持股；贺XXX等十二位自然人合计持股。</tspan></text></g>
<g id="h3b" class="lf"><rect x="1694" y="2791" width="297" height="141" rx="5"/><text class="t" x="1701" y="2812"><tspan x="1701">公司经营范围：淀粉及副产品、葡萄糖及副产</tspan><tspan x="1701" dy="18.3">品、塑料制品、肌醇及副产品、山梨醇产品的</tspan><tspan x="1701" dy="18.3">生产和销售；原料药、药用辅料的生产和销售</tspan><tspan x="1701" dy="18.3">；经营本企业自产产品及相关技术的出口业务</tspan><tspan x="1701" dy="18.3">等。目前公司的主营业务为：淀粉及副产品、</tspan><tspan x="1701" dy="18.3">葡萄糖及副产品、山梨醇等产品的生产和销售</tspan><tspan x="1701" dy="18.3">。</tspan></text></g>

<g id="i1" class="lf"><rect x="1569" y="2963" width="183" height="32" rx="5"/><text class="t" x="1576" y="2984">企业信用调查报告评估报告</text></g>
<g id="i2" class="lf"><rect x="1569" y="3025" width="74" height="33" rx="5"/><text class="t" x="1576" y="3046">一、概况</text></g>
<g id="i3" class="lf"><rect x="1569" y="3088" width="103" height="32" rx="5"/><text class="t" x="1576" y="3109">二、注册资料</text></g>
<g id="i4" class="lf"><rect x="1569" y="3223" width="103" height="33" rx="5"/><text class="t" x="1576" y="3244">三、历史沿革</text></g>
<g id="i4a" class="lf"><rect x="1699" y="3150" width="296" height="69" rx="5"/><text class="t" x="1706" y="3171"><tspan x="1706">上海伯纳克精密仪器有限公司是中国最早生产</tspan><tspan x="1706" dy="18.3">和经营不锈钢精密测量仪器，是国家重点高科</tspan><tspan x="1706" dy="18.3">技企业。</tspan></text></g>
<g id="i4b" class="lf"><rect x="1699" y="3249" width="296" height="87" rx="5"/><text class="t" x="1706" y="3270"><tspan x="1706">20xx年7月，当时的上海伯纳克精密仪器有限</tspan><tspan x="1706" dy="18.3">公司的注册资本为750万元，20xx年11月上</tspan><tspan x="1706" dy="18.3">海伯纳克精密仪器有限公司再次出资250万元</tspan><tspan x="1706" dy="18.3">。</tspan></text></g>
<g id="i5" class="lf"><rect x="1569" y="3367" width="74" height="33" rx="5"/><text class="t" x="1576" y="3388">四、股东</text></g>
<g id="i6" class="lf"><rect x="1569" y="3430" width="116" height="32" rx="5"/><text class="t" x="1576" y="3451">五、主要管理者</text></g>
<g id="i7" class="lf"><rect x="1569" y="3492" width="103" height="33" rx="5"/><text class="t" x="1576" y="3513">六、组织结构</text></g>
<g id="i8" class="lf"><rect x="1569" y="3762" width="145" height="33" rx="5"/><text class="t" x="1576" y="3783">七、经营方式及状况</text></g>
<g id="j1" class="lf"><rect x="1741" y="3564" width="82" height="33" rx="5"/><text class="t" x="1748" y="3585">3.主营业务</text></g>
<g id="j1a" class="lf"><rect x="1850" y="3556" width="296" height="50" rx="5"/><text class="t" x="1857" y="3577"><tspan x="1857">生产销售不锈钢精密测量仪器、配件、仪器安</tspan><tspan x="1857" dy="18.3">装，不锈钢及其他金属产品。</tspan></text></g>
<g id="j2" class="lf"><rect x="1741" y="3636" width="82" height="32" rx="5"/><text class="t" x="1748" y="3657">8.财务状况</text></g>
<g id="j3" class="lf"><rect x="1741" y="3699" width="111" height="32" rx="5"/><text class="t" x="1748" y="3720">9、附属机构 无</text></g>
<g id="j4" class="lf"><rect x="1741" y="3789" width="101" height="32" rx="5"/><text class="t" x="1748" y="3810">10、实地考察</text></g>
<g id="j4a" class="lf"><rect x="1869" y="3762" width="297" height="86" rx="5"/><text class="t" x="1876" y="3783"><tspan x="1876">该公司位于上海市相邻市区，环境整洁，交通</tspan><tspan x="1876" dy="18.3">便利。公司自有2个仓库，3间厂房。办公设</tspan><tspan x="1876" dy="18.3">备及环境良好，主要生产线有3条，全部由国</tspan><tspan x="1876" dy="18.3">产。</tspan></text></g>
<g id="j5" class="lf"><rect x="1741" y="3960" width="104" height="32" rx="5"/><text class="t" x="1748" y="3981">11、行业状况:</text></g>
<g id="j5a" class="lf"><rect x="1873" y="3879" width="296" height="68" rx="5"/><text class="t" x="1880" y="3900"><tspan x="1880">该公司所属行业是制造业，本行业在20xx年</tspan><tspan x="1880" dy="18.3">产品销售收入为人民币21，862,000元；行业</tspan><tspan x="1880" dy="18.3">的平均资产回报率为。 12、综合评价</tspan></text></g>
<g id="j5b" class="lf"><rect x="1873" y="3978" width="296" height="123" rx="5"/><text class="t" x="1880" y="3999"><tspan x="1880">该公司的赢利能力指标大大高于同行业水平，</tspan><tspan x="1880" dy="18.3">赢利能力较强；公司的资金比较雄厚，资产负</tspan><tspan x="1880" dy="18.3">债率仅为。流动比和速动比均较理想，公司的</tspan><tspan x="1880" dy="18.3">综合偿债能力较好，特别是短期的支付能力较</tspan><tspan x="1880" dy="18.3">强；该公司存货周转率和应收帐款周转率一般</tspan><tspan x="1880" dy="18.3">，并接近行业水平。</tspan></text></g>

<g id="k1" class="lf"><rect x="1569" y="4132" width="297" height="633" rx="5"/><text class="t" x="1576" y="4153"><tspan x="1576">企业信用管理内部评估报告　公司根据经营</tspan><tspan x="1576" dy="18.3">管理实际，制定了信用管理相关制度：信用管</tspan><tspan x="1576" dy="18.3">理岗位制度、信用档案管理制度、客户资信管</tspan><tspan x="1576" dy="18.3">理制度、客户授信管理制度、合同管理制度。</tspan><tspan x="1576" dy="18.3">强化信息管理工作，提高ERP管理信息系统的</tspan><tspan x="1576" dy="18.3">的运用水平，完善相关信息，对客户进行资信</tspan><tspan x="1576" dy="18.3">调查，按照客户的规模，重要程度进行分类。</tspan><tspan x="1576" dy="18.3">通过走访，向客户直接索取、向政府部门了解</tspan><tspan x="1576" dy="18.3">、向银行查询等方式了解客户的基本情况、物</tspan><tspan x="1576" dy="18.3">资资源情况以及财务情况和银行信用情况。建</tspan><tspan x="1576" dy="18.3">立客户资金信评价指标，对客户的资信情况进</tspan><tspan x="1576" dy="18.3">行分析和评估，科学的将应收账款持有水平和</tspan><tspan x="1576" dy="18.3">坏账风险降到最低，提高现金流动速度，实现</tspan><tspan x="1576" dy="18.3">最大限度的信用销售，制定了对客户授信的管</tspan><tspan x="1576" dy="18.3">理制度，科学的运用同业比较法、初次限额法</tspan><tspan x="1576" dy="18.3">、销售预测法等方法对客户进行授信。公司有</tspan><tspan x="1576" dy="18.3">严格的应收账款预警制度，到期前提示业务员</tspan><tspan x="1576" dy="18.3">收款，逾期后向客户发出正式的催款函，催收</tspan><tspan x="1576" dy="18.3">本着维护交易双方良好合作关系为出发点，采</tspan><tspan x="1576" dy="18.3">用内部催收为主的方式。公司经常组织对涉及</tspan><tspan x="1576" dy="18.3">信用管理人员进行管理知识培训，强化企业个</tspan><tspan x="1576" dy="18.3">管理工作人员的信用管理意识。公司没有发生</tspan><tspan x="1576" dy="18.3">过违法违纪失信事件，在当地树立了良好的社</tspan><tspan x="1576" dy="18.3">会形象。公司在职工权益上，尊重和关爱员工</tspan><tspan x="1576" dy="18.3">，落实员工的合法权益，保持员工收入合理增</tspan><tspan x="1576" dy="18.3">长，确保职业健康和安全生产，注重培训和激</tspan><tspan x="1576" dy="18.3">励，建立和谐的劳动关系，在节能环保上，遵</tspan><tspan x="1576" dy="18.3">守国家法律法规，落实节能减排措施，保持和</tspan><tspan x="1576" dy="18.3">恢复生态平衡。向客户提供安全可靠、诚信的</tspan><tspan x="1576" dy="18.3">产品和服务，在市场竞争上，公开、符合商业</tspan><tspan x="1576" dy="18.3">道德的开展市场竞争，不以违法、不平等条约</tspan><tspan x="1576" dy="18.3">约束交易双方，尊重和保护知识产权，反对商</tspan><tspan x="1576" dy="18.3">业贿赂。公司依法纳税，诚信纳税，同时也积</tspan><tspan x="1576" dy="18.3">极参加社会公益活动。</tspan></text></g>
</g>
</svg>
